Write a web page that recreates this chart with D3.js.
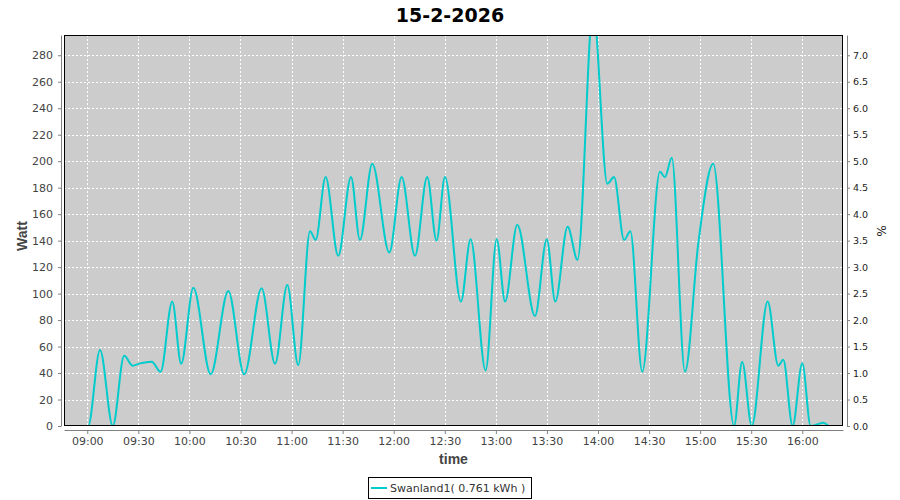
<!DOCTYPE html>
<html><head><meta charset="utf-8">
<script src="https://cdn.jsdelivr.net/npm/d3@7"></script>
<style>body{margin:0;background:#fff}svg{display:block}</style>
</head><body>
<svg id="c" width="900" height="500"></svg>
<script>
// ---- data ----
const times = ["08:54:00","09:00:30","09:07:30","09:15:00","09:21:40","09:26:40","09:31:00","09:37:50","09:43:05","09:49:55","09:55:10",
"10:02:20","10:12:30","10:22:50","10:32:10","10:42:25","10:50:20","10:57:30","11:03:55","11:10:50","11:14:10","11:20:00",
"11:27:25","11:34:55","11:40:10","11:47:25","11:57:25","12:04:40","12:12:30","12:19:40","12:25:10","12:30:05","12:39:30",
"12:45:10","12:54:00","13:00:30","13:05:25","13:12:35","13:23:00","13:29:55","13:34:55","13:42:10","13:48:00","13:57:10",
"14:05:30","14:09:25","14:15:20","14:19:00","14:26:00","14:36:25","14:39:20","14:43:20","14:51:05","14:58:55","15:07:40",
"15:19:55","15:24:40","15:30:20","15:39:40","15:45:55","15:48:50","15:54:20","16:00:00","16:04:55","16:12:20","16:15:20"];
const watts = [0,0,57.4,0,53,45.5,47.3,48.6,41,94,47,
104.5,39,102,39,104,47,106.5,46,147,140.5,188,
128.5,188,140.5,198,131,188,128.5,188,140,188,94,
141,42,141,94,152,83,141,94,150.5,125.5,315,
183,188,140.5,147,41,192,188,202.5,41,138,198,
0,48.6,0,94,45.5,50,0,47.3,0,2.5,0];
const xTickLabels = ["09:00","09:30","10:00","10:30","11:00","11:30","12:00","12:30","13:00","13:30","14:00","14:30","15:00","15:30","16:00"];
const leftTicks = [0,20,40,60,80,100,120,140,160,180,200,220,240,260,280];
const rightTicks = [0,0.5,1,1.5,2,2.5,3,3.5,4,4.5,5,5.5,6,6.5,7];
const xDomain = ["08:46:20","16:23:55"];
const yMax = 295.3, pctMax = 295.3/40;
const title = "15-2-2026", seriesName = "Swanland1( 0.761 kWh )";

// ---- layout ----
const L=64,R=843,T=35,B=426;
const svg=d3.select("#c");
const day="2026-02-15T";
const p=d3.timeParse("%Y-%m-%dT%H:%M:%S");
const pt=s=>p(day+(s.length===5?s+":00":s));
const x=d3.scaleTime().domain(xDomain.map(pt)).range([L,R]);
const y=d3.scaleLinear().domain([0,yMax]).range([B,T]);
const y2=d3.scaleLinear().domain([0,pctMax]).range([B,T]);

svg.append("text").attr("x",450).attr("y",22).attr("text-anchor","middle")
 .attr("font-family","DejaVu Sans").attr("font-weight","bold").attr("font-size",19).attr("fill","#000").text(title);

svg.append("rect").attr("x",L).attr("y",T).attr("width",R-L).attr("height",B-T).attr("fill","#cccccc");

const g=svg.append("g");
xTickLabels.forEach(t=>{const xx=Math.round(x(pt(t)))+0.5;
 g.append("line").attr("x1",xx).attr("x2",xx).attr("y1",T).attr("y2",B).attr("stroke","#fff").attr("stroke-dasharray","2,2");});
leftTicks.forEach(v=>{if(v===0)return;const yy=Math.round(y(v))+0.5;
 g.append("line").attr("x1",L).attr("x2",R).attr("y1",yy).attr("y2",yy).attr("stroke","#fff").attr("stroke-dasharray","2,2");});

svg.append("clipPath").attr("id","cp").append("rect").attr("x",L).attr("y",T).attr("width",R-L).attr("height",B-T);
const data=times.map((t,i)=>({t:pt(t),v:watts[i]}));
svg.append("path").datum(data).attr("clip-path","url(#cp)")
 .attr("d",d3.line().x(d=>x(d.t)).y(d=>y(d.v)).curve(d3.curveMonotoneX))
 .attr("fill","none").attr("stroke","#00cccc").attr("stroke-width",2);

svg.append("rect").attr("x",L+0.5).attr("y",T+0.5).attr("width",R-L-1).attr("height",B-T-1).attr("fill","none").attr("stroke","#000");

// axes
const ax=d3.axisBottom(x).tickValues(xTickLabels.map(pt)).tickFormat(d3.timeFormat("%H:%M")).tickSize(4).tickSizeOuter(0).tickPadding(3);
const gx=svg.append("g").attr("transform",`translate(0,${B+4})`).call(ax);
const ay=d3.axisLeft(y).tickValues(leftTicks).tickFormat(d3.format("d")).tickSize(3).tickSizeOuter(0).tickPadding(5);
const gy=svg.append("g").attr("transform",`translate(${L-3},0)`).call(ay);
const ay2=d3.axisRight(y2).tickValues(rightTicks).tickFormat(d3.format(".1f")).tickSize(3).tickSizeOuter(0).tickPadding(3);
const gy2=svg.append("g").attr("transform",`translate(${R+4},0)`).call(ay2);
[gx,gy,gy2].forEach(a=>{a.select(".domain").attr("stroke","#808080");a.selectAll(".tick line").attr("stroke","#808080");
 a.selectAll("text").attr("font-family","DejaVu Sans").attr("font-size",11).attr("fill","#444");});
gy2.selectAll("text").attr("font-size",9.5).attr("fill","#222");

svg.append("text").attr("x",(L+R)/2).attr("y",464).attr("text-anchor","middle")
 .attr("font-family","Liberation Sans").attr("font-weight","bold").attr("font-size",14).attr("fill","#444").text("time");
svg.append("text").attr("transform","translate(27,236) rotate(-90)").attr("text-anchor","middle")
 .attr("font-family","Liberation Sans").attr("font-weight","bold").attr("font-size",14).attr("fill","#444").text("Watt");
svg.append("text").attr("transform","translate(877,231) rotate(90)").attr("text-anchor","middle")
 .attr("font-family","DejaVu Sans").attr("font-size",12).attr("fill","#222").text("%");

// legend
svg.append("rect").attr("x",368.5).attr("y",477.5).attr("width",163).attr("height",21).attr("fill","#fff").attr("stroke","#000");
svg.append("line").attr("x1",371).attr("x2",387).attr("y1",488).attr("y2",488).attr("stroke","#00cccc").attr("stroke-width",2);
svg.append("text").attr("x",390).attr("y",492).attr("font-family","DejaVu Sans").attr("font-size",11).attr("fill","#333").text(seriesName);
</script>
</body></html>
